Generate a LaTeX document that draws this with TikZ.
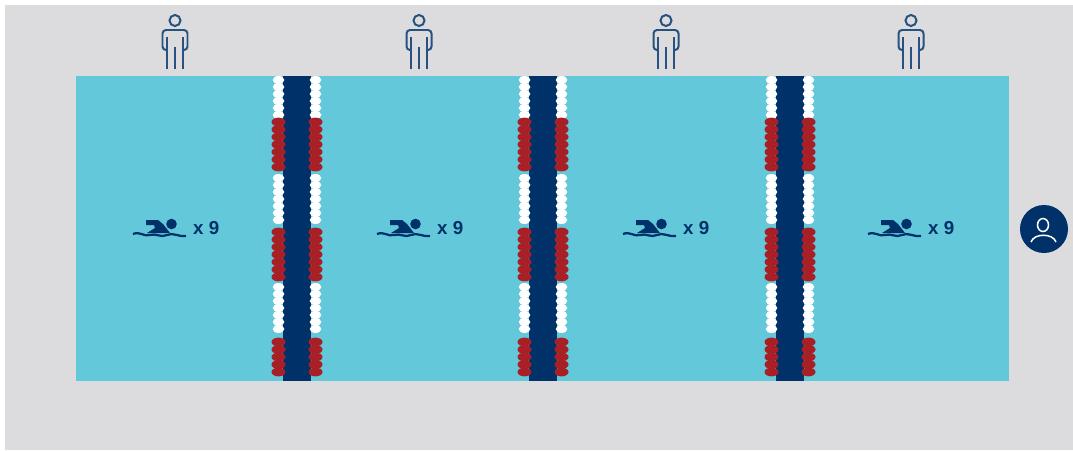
\documentclass[tikz,border=0pt]{standalone}
\usepackage{fontspec}
\setmainfont{Liberation Sans}
\definecolor{deckgrey}{RGB}{220,220,222}
\definecolor{poolblue}{RGB}{98,200,218}
\definecolor{darkblue}{RGB}{0,50,105}
\definecolor{beadred}{RGB}{168,32,38}
\usetikzlibrary{positioning}
\tikzset{
	lane/.style   = {fill=darkblue,draw=none},
	wbead/.style  = {fill=white,draw=none},
	rbead/.style  = {fill=beadred,draw=none},
	count/.style  = {font=\bfseries\fontsize{16}{16}\selectfont,text=darkblue,inner sep=0pt},
	outl/.style   = {draw=darkblue!85,line width=1.7pt,fill=none},
	person/.pic   = {
		\draw[outl] (0,-48.5) circle (5.5);
		\draw[outl,rounded corners=3pt] (-8,-19) -- (-12.5,-19) -- (-12.5,-39) -- (12.5,-39) -- (12.5,-19) -- (8,-19);
		\draw[outl] (-8,0) -- (-8,-32) (8,0) -- (8,-32);
		\draw[outl] (0,0) -- (0,-22);
	},
	swimmer/.pic  = {
		\fill[darkblue] (11.5,-4) circle (5.3);
		\fill[darkblue] (-14,-8) -- (-2,-8) -- (3,-4) -- (10,5) -- (-13,5) -- (-5,0) -- (-6,-3) -- (-14,-3) -- cycle;
		\draw[darkblue,line width=1.9pt] (-27,6) .. controls (-20,3) and (-16,9) .. (-10,7) .. controls (-4,5) and (1,10) .. (7,7) .. controls (13,4) and (18,9) .. (26,8);
	},
}
\begin{document}
\begin{tikzpicture}[x=0.03cm,y=-0.03cm]
	\useasboundingbox (0,0) rectangle (1073,450);
	\fill[deckgrey] (5,5) rectangle (1073,450);
	\fill[poolblue] (76,76) rectangle (1009,381);
	
	% lane ropes
	\foreach \lx in {297,543,790}{
		\fill[lane] (\lx-14,76) rectangle (\lx+14,381);
		\foreach \side in {-18.5,18.5}{
			\foreach \by in {80,87,...,116,178,185,...,226,287,294,...,335}
				\fill[wbead] (\lx+\side,\by) ellipse (5.8 and 4);
			\foreach \by in {122,129.5,...,172,232,239.5,...,282,342,349.5,...,378}
				\fill[rbead] (\lx+\side,\by) ellipse (7 and 4.4);
		}
	}
	
	% officials and swimmers
	\foreach \n/\px/\sx in {1/175/160,2/419/404,3/666/650,4/911/895}{
		\pic at (\px,69) {person};
		\pic at (\sx,228) {swimmer};
		\node (n\n) [count,anchor=west] at (\sx+33,228) {x 9};
	}
	
	% coach
	\node (coach) [circle,fill=darkblue,minimum size=1.44cm,inner sep=0pt] at (1044,229) {};
	\draw[white,line width=1.3pt] (1043,225) ellipse (5.5 and 6.5);
	\draw[white,line width=1.3pt] (1031,242) .. controls (1034,233) and (1053,233) .. (1056,242);
\end{tikzpicture}
\end{document}
